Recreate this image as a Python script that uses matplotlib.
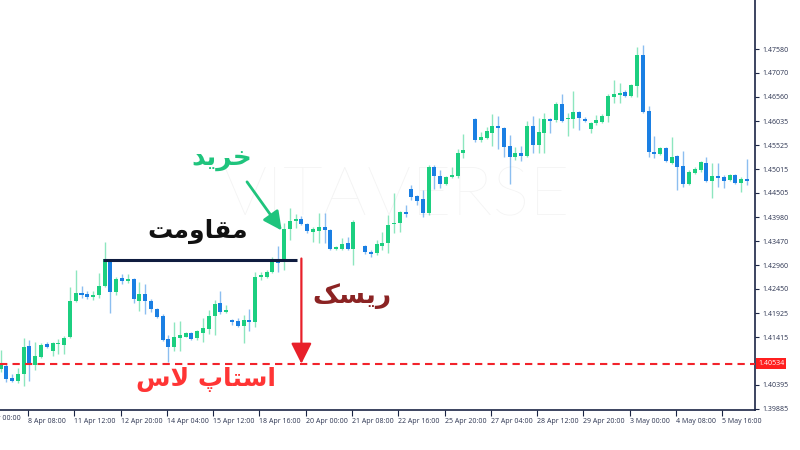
import numpy as np
import matplotlib
matplotlib.use("Agg")
import matplotlib.pyplot as plt
from matplotlib import transforms

# 4H candles (price), None = no bar drawn
opens = [1.4074, 1.4080, 1.4054, 1.4048, 1.4063, 1.4123, 1.4082, 1.4099, 1.4127, 1.4112,
         1.4127, 1.4125, 1.4142, 1.4219, 1.4236, 1.4234, 1.4228, 1.4232, 1.4251, 1.4307,
         1.4239, 1.4268, 1.4262, 1.4266, 1.4219, 1.4234, 1.4219, 1.4202, 1.4187, 1.4138,
         1.4121, 1.4140, 1.4142, 1.4151, 1.4140, 1.4151, 1.4159, 1.4187, 1.4215, 1.4196,
         1.4179, 1.4176, 1.4166, 1.4179, 1.4174, 1.4271, 1.4271, 1.4281, 1.4305, 1.4303,
         1.4373, 1.4390, 1.4395, 1.4384, 1.4367, 1.4369, 1.4378, 1.4371, 1.4331, 1.4331,
         1.4343, 1.4331, None, 1.4337, 1.4324, 1.4322, 1.4337, 1.4343, 1.4384, 1.4386,
         1.4410, 1.4459, 1.4444, 1.4438, 1.4408, 1.4506, 1.4487, 1.4470, 1.4485, 1.4487,
         1.4536, None, 1.4609, 1.4564, 1.4568, 1.4579, 1.4594, 1.4590, 1.4551, 1.4527,
         1.4536, 1.4530, 1.4594, 1.4553, 1.4579, 1.4609, 1.4607, 1.4641, 1.4609, 1.4609,
         1.4624, 1.4609, 1.4587, 1.4600, 1.4602, 1.4615, 1.4656, 1.4660, 1.4666, 1.4658,
         1.4679, 1.4746, 1.4626, 1.4538, 1.4534, 1.4547, 1.4515, 1.4530, 1.4508, 1.4470,
         1.4493, 1.4500, 1.4515, 1.4476, 1.4487, 1.4485, 1.4478, 1.4489, 1.4472, 1.4480]
highs = [1.4114, 1.4087, 1.4063, 1.4076, 1.4140, 1.4136, 1.4132, 1.4129, 1.4132, 1.4131,
         1.4138, 1.4144, 1.4249, 1.4286, 1.4251, 1.4241, 1.4241, 1.4279, 1.4346, 1.4309,
         1.4271, 1.4277, 1.4277, 1.4268, 1.4260, 1.4256, 1.4224, 1.4204, 1.4191, 1.4147,
         1.4174, 1.4176, 1.4153, 1.4153, 1.4157, 1.4183, 1.4200, 1.4221, 1.4241, 1.4211,
         1.4181, 1.4183, 1.4189, 1.4202, 1.4281, 1.4281, 1.4286, 1.4313, 1.4337, 1.4386,
         1.4418, 1.4405, 1.4401, 1.4386, 1.4378, 1.4408, 1.4408, 1.4373, 1.4337, 1.4354,
         1.4356, 1.4393, None, 1.4339, 1.4328, 1.4350, 1.4367, 1.4403, 1.4450, 1.4412,
         1.4425, 1.4468, 1.4446, 1.4457, 1.4510, 1.4510, 1.4500, 1.4487, 1.4506, 1.4545,
         1.4577, None, 1.4611, 1.4581, 1.4592, 1.4619, 1.4615, 1.4592, 1.4575, 1.4549,
         1.4551, 1.4604, 1.4615, 1.4611, 1.4622, 1.4611, 1.4645, 1.4662, 1.4622, 1.4669,
         1.4626, 1.4613, 1.4602, 1.4617, 1.4619, 1.4662, 1.4692, 1.4686, 1.4671, 1.4684,
         1.4763, 1.4767, 1.4637, 1.4572, 1.4549, 1.4549, 1.4570, 1.4532, 1.4540, 1.4500,
         1.4506, 1.4519, 1.4527, 1.4515, 1.4515, 1.4489, 1.4491, 1.4491, 1.4485, 1.4523]
lows = [1.4067, 1.4046, 1.4046, 1.4044, 1.4037, 1.4048, 1.4072, 1.4097, 1.4119, 1.4102,
        1.4106, 1.4106, 1.4140, 1.4217, 1.4226, 1.4224, 1.4221, 1.4226, 1.4249, 1.4194,
        1.4232, 1.4256, 1.4258, 1.4215, 1.4198, 1.4191, 1.4196, 1.4183, 1.4134, 1.4089,
        1.4112, 1.4112, 1.4142, 1.4136, 1.4136, 1.4132, 1.4149, 1.4147, 1.4191, 1.4194,
        1.4168, 1.4164, 1.4129, 1.4155, 1.4164, 1.4264, 1.4268, 1.4279, 1.4281, 1.4286,
        1.4350, 1.4376, 1.4382, 1.4365, 1.4346, 1.4343, 1.4343, 1.4328, 1.4328, 1.4328,
        1.4328, 1.4296, None, 1.4320, 1.4313, 1.4318, 1.4328, 1.4322, 1.4365, 1.4367,
        1.4399, 1.4435, 1.4425, 1.4399, 1.4403, 1.4459, 1.4461, 1.4468, 1.4482, 1.4482,
        1.4525, None, 1.4560, 1.4560, 1.4566, 1.4551, 1.4545, 1.4527, 1.4470, 1.4521,
        1.4519, 1.4527, 1.4536, 1.4536, 1.4536, 1.4579, 1.4602, 1.4602, 1.4572, 1.4590,
        1.4585, 1.4602, 1.4579, 1.4596, 1.4600, 1.4602, 1.4643, 1.4643, 1.4656, 1.4656,
        1.4656, 1.4622, 1.4527, 1.4525, 1.4532, 1.4517, 1.4513, 1.4457, 1.4463, 1.4468,
        1.4491, 1.4495, 1.4474, 1.4440, 1.4463, 1.4461, 1.4476, 1.4470, 1.4453, 1.4468]
closes = [1.4082, 1.4052, 1.4048, 1.4063, 1.4121, 1.4082, 1.4102, 1.4125, 1.4121, 1.4129,
          1.4129, 1.4140, 1.4219, 1.4236, 1.4232, 1.4228, 1.4232, 1.4251, 1.4309, 1.4239,
          1.4266, 1.4262, 1.4266, 1.4224, 1.4234, 1.4219, 1.4202, 1.4185, 1.4136, 1.4121,
          1.4142, 1.4147, 1.4151, 1.4138, 1.4155, 1.4162, 1.4187, 1.4213, 1.4196, 1.4200,
          1.4174, 1.4166, 1.4179, 1.4174, 1.4271, 1.4275, 1.4281, 1.4305, 1.4301, 1.4373,
          1.4390, 1.4395, 1.4384, 1.4369, 1.4373, 1.4378, 1.4371, 1.4331, 1.4335, 1.4341,
          1.4331, 1.4388, None, 1.4324, 1.4320, 1.4341, 1.4343, 1.4382, 1.4386, 1.4410,
          1.4405, 1.4442, 1.4433, 1.4408, 1.4506, 1.4487, 1.4470, 1.4485, 1.4489, 1.4536,
          1.4542, None, 1.4564, 1.4570, 1.4583, 1.4594, 1.4590, 1.4549, 1.4527, 1.4536,
          1.4530, 1.4594, 1.4553, 1.4581, 1.4609, 1.4604, 1.4641, 1.4604, 1.4611, 1.4624,
          1.4611, 1.4604, 1.4600, 1.4607, 1.4615, 1.4658, 1.4662, 1.4664, 1.4658, 1.4681,
          1.4746, 1.4624, 1.4538, 1.4534, 1.4547, 1.4519, 1.4527, 1.4506, 1.4470, 1.4495,
          1.4502, 1.4517, 1.4476, 1.4487, 1.4482, 1.4476, 1.4489, 1.4472, 1.4480, 1.4476]

tick_bars = [-3, 5, 13, 21, 29, 37, 45, 53, 61, 69, 77, 85, 93, 101, 109, 117, 125]
tick_labels = ["7 Apr 00:00", "8 Apr 08:00", "11 Apr 12:00", "12 Apr 20:00", "14 Apr 04:00",
               "15 Apr 12:00", "18 Apr 16:00", "20 Apr 00:00", "21 Apr 08:00", "22 Apr 16:00",
               "25 Apr 20:00", "27 Apr 04:00", "28 Apr 12:00", "29 Apr 20:00", "3 May 00:00",
               "4 May 08:00", "5 May 16:00"]
price_ticks = [1.47580, 1.47070, 1.46560, 1.46035, 1.45525, 1.45015, 1.44505, 1.43980,
               1.43470, 1.42960, 1.42450, 1.41925, 1.41415, 1.40395, 1.39885]

resistance = 1.4307
resistance_from, resistance_to = 17.7, 51.3
stop_loss = 1.4085
stop_label = "1.40534"
entry_bar = 52

# Persian labels, pre-shaped (presentation forms, visual order)
txt_buy = "\uFEAA\uFEF3\uFEAE\uFEA7"                       # خرید
txt_res = "\uFE96\uFEE3\uFEED\uFE8E\uFED8\uFEE3"           # مقاومت
txt_risk = "\uFB8F\uFEB4\uFEF3\uFEAD"                      # ریسک
txt_stop = "\uFEB1\uFEFB \uFB56\uFE8E\uFE98\uFEB3\uFE8D"   # استاپ لاس

GREEN = "#1ccf80"
BLUE = "#1a7fe3"
NAVY = "#1b2545"
TICKFONT = "Open Sans"

o = np.array([np.nan if v is None else v for v in opens])
h = np.array([np.nan if v is None else v for v in highs])
l = np.array([np.nan if v is None else v for v in lows])
c = np.array([np.nan if v is None else v for v in closes])
x = np.arange(len(o))
ok = ~np.isnan(o)
up = (c >= o) & ok
dn = (c < o) & ok

fig = plt.figure(figsize=(8, 4.5), dpi=100)
ax = fig.add_axes([0, 40 / 450, 755 / 800, 410 / 450])

# watermark
ax.text(0.525, 0.52, "VITAVERSE", transform=ax.transAxes, fontsize=50, color="#f3f3f3",
        family="Lato", fontweight="light", ha="center", va="center", zorder=0)

ax.vlines(x[up], l[up], h[up], color=GREEN, alpha=0.5, lw=1, zorder=2)
ax.vlines(x[dn], l[dn], h[dn], color=BLUE, alpha=0.5, lw=1, zorder=2)
body = np.maximum(np.abs(c - o), 0.00015)
ax.bar(x[up], body[up], bottom=np.minimum(o, c)[up], width=0.7, color=GREEN, zorder=3)
ax.bar(x[dn], body[dn], bottom=np.minimum(o, c)[dn], width=0.7, color=BLUE, zorder=3)

# resistance + stop
ax.hlines(resistance, resistance_from, resistance_to, color="#0f1c3f", lw=2.2, zorder=4)
ax.axhline(stop_loss, color="#f2232b", lw=1.5, ls=(0, (3.5, 2.5)), zorder=4)
ax.annotate("", xy=(entry_bar, stop_loss), xytext=(entry_bar, resistance + 0.0003),
            arrowprops=dict(arrowstyle="-|>,head_length=0.7,head_width=0.35", color="#e8202a",
                            lw=1.6, mutation_scale=18, shrinkA=0, shrinkB=0),
            zorder=5)
ax.annotate("", xy=(48.6, 1.4370), xytext=(42.6, 1.4474),
            arrowprops=dict(arrowstyle="-|>,head_length=0.7,head_width=0.35", color="#1fc47d",
                            lw=2.0, mutation_scale=16, shrinkA=0, shrinkB=0),
            zorder=5)

pfont = ["DejaVu Sans"]
ax.text(38.3, 1.4522, txt_buy, fontsize=19, fontweight="bold", color="#1fc47d", family=pfont,
        ha="center", va="center")
ax.text(34.0, 1.4368, txt_res, fontsize=18, fontweight="bold", color="#111111", family=pfont,
        ha="center", va="center")
ax.text(60.8, 1.4230, txt_risk, fontsize=19, fontweight="bold", color="#8b2323", family=pfont,
        ha="center", va="center")
ax.text(35.5, 1.4052, txt_stop, fontsize=18, fontweight="bold", color="#ff3535", family=pfont,
        ha="center", va="center")

ax.set_xlim(-0.09, 130.4)
ax.set_ylim(1.3986, 1.4863)

for s in ["top", "left"]:
    ax.spines[s].set_visible(False)
for s in ["right", "bottom"]:
    ax.spines[s].set_color(NAVY)
    ax.spines[s].set_linewidth(1.2)

ax.yaxis.tick_right()
ax.set_yticks(price_ticks)
ax.set_yticklabels([f"{p:.5f}" for p in price_ticks])
ax.tick_params(axis="y", length=3, width=0.8, color=NAVY, pad=2, labelsize=5, labelcolor="#2b3350")

ax.set_xticks(np.array(tick_bars[1:]) - 0.25)
ax.set_xticklabels(tick_labels[1:])
ax.tick_params(axis="x", length=4, width=0.8, color=NAVY, pad=2, labelsize=5, labelcolor="#2b3350")
for t in ax.get_xticklabels():
    t.set_ha("left")
    t.set_family(TICKFONT)
for t in ax.get_yticklabels():
    t.set_family(TICKFONT)
trans = transforms.blended_transform_factory(ax.transData, ax.transAxes)
ax.text(tick_bars[0] - 0.1, -0.012, tick_labels[0], transform=trans, fontsize=5, family=TICKFONT,
        color="#2b3350", ha="left", va="top", clip_on=False)

# price tag on axis
ytrans = transforms.blended_transform_factory(ax.transAxes, ax.transData)
ax.text(1.004, stop_loss, stop_label, transform=ytrans, fontsize=5, family=TICKFONT, color="white",
        ha="left", va="center", clip_on=False,
        bbox=dict(boxstyle="square,pad=0.3", fc="#ff1f1f", ec="none"))

fig.savefig("out.png", dpi=100)
